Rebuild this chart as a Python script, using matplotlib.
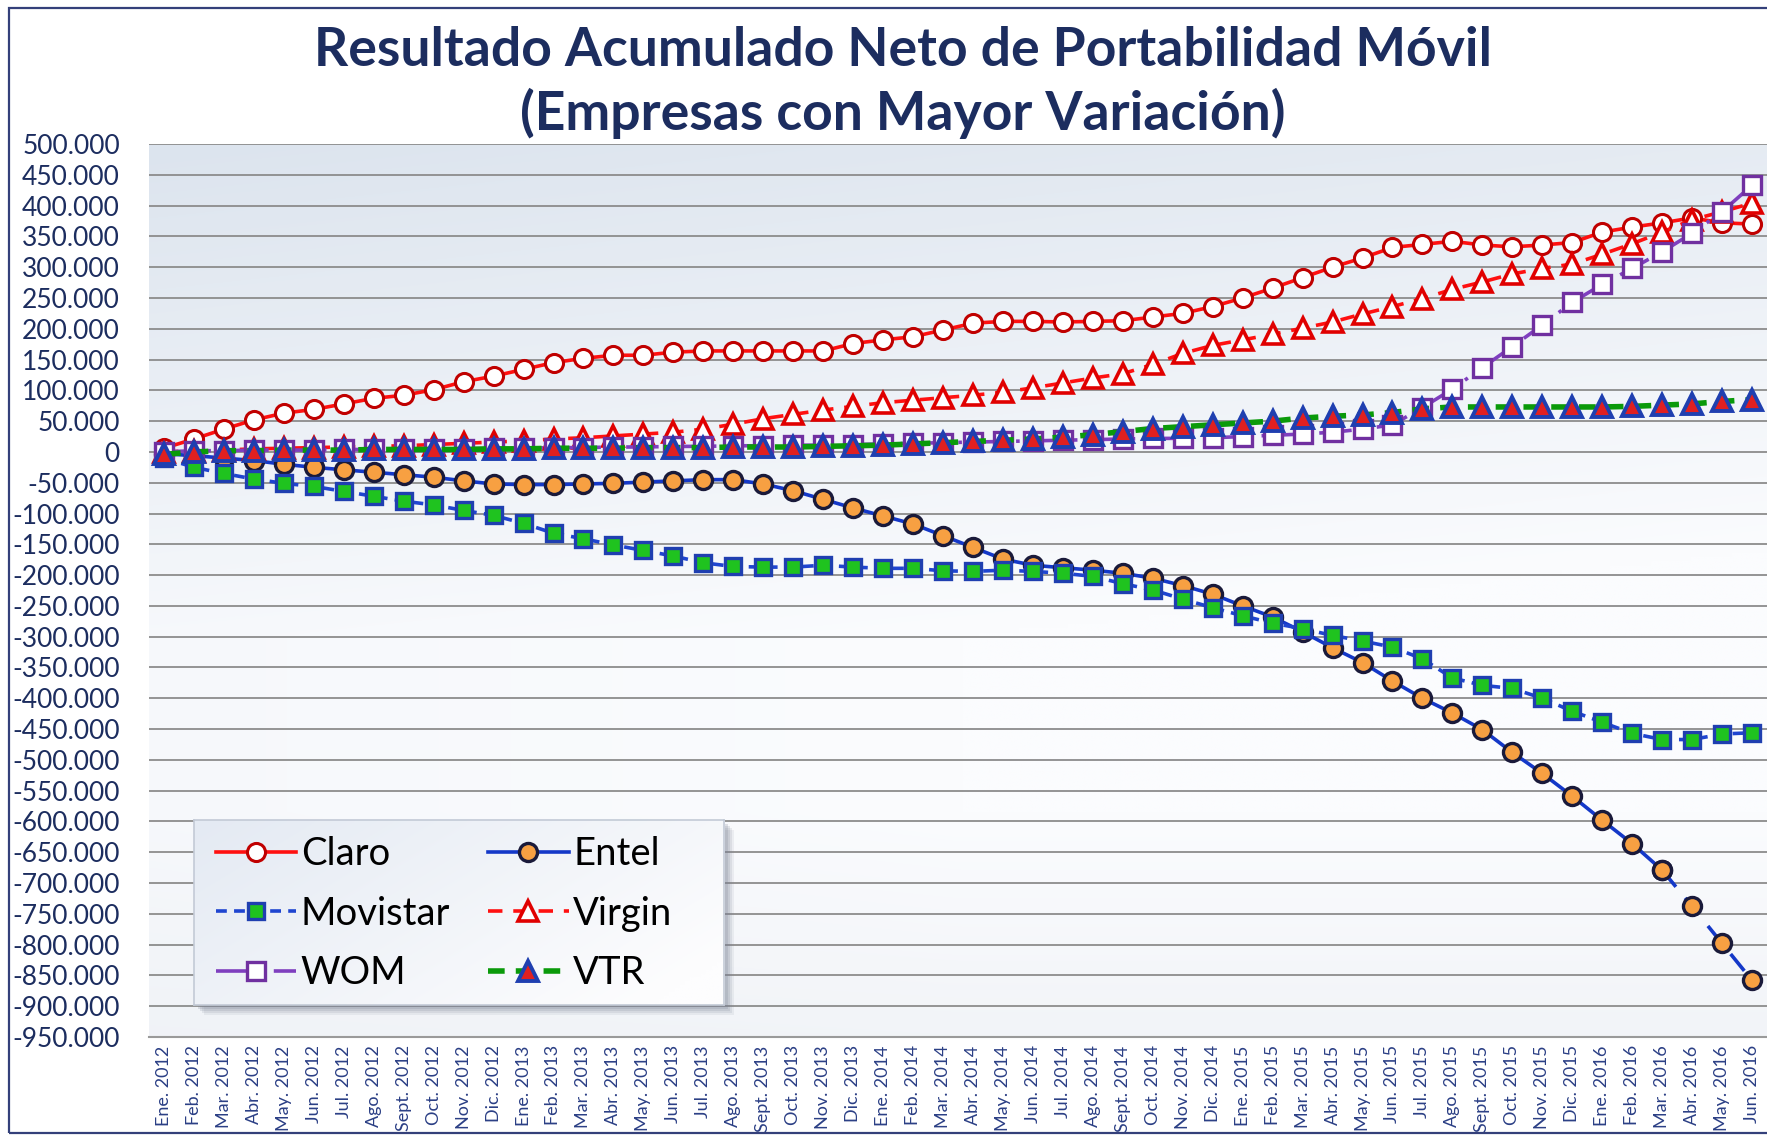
import numpy as np
import matplotlib
matplotlib.use("Agg")
import matplotlib.pyplot as plt
from matplotlib.ticker import FuncFormatter
from matplotlib.patches import Rectangle

# ---------------- data (thousands of lines, cumulative net portability) ----------------
meses = ["Ene.", "Feb.", "Mar.", "Abr.", "May.", "Jun.", "Jul.", "Ago.", "Sept.", "Oct.", "Nov.", "Dic."]
anios = [2012, 2013, 2014, 2015, 2016]
etiquetas = [f"{m} {a}" for a in anios for m in meses][:54]

claro = [6, 21, 37, 52, 63, 69, 78, 87, 92, 101, 114, 123, 134, 145, 152, 157, 157, 162,
         164, 164, 164, 164, 164, 176, 182, 187, 198, 209, 212, 212, 211, 212, 213, 219,
         225, 236, 250, 266, 283, 300, 315, 332, 337, 342, 336, 333, 336, 340, 357, 365,
         372, 380, 372, 370]
entel = [-3, -6, -10, -14, -20, -25, -29, -33, -37, -41, -47, -52, -53, -53, -52, -51, -49,
         -47, -45, -45, -52, -63, -77, -91, -104, -117, -136, -155, -174, -184, -188, -192,
         -197, -205, -217, -231, -250, -268, -292, -318, -342, -372, -400, -424, -451, -488,
         -522, -559, -598, -636, -679, -738, -798, -858]
movistar = [-10, -25, -35, -44, -51, -56, -64, -72, -80, -86, -95, -103, -116, -132, -141,
            -151, -160, -169, -180, -186, -187, -187, -184, -187, -189, -189, -193, -194,
            -192, -194, -197, -202, -214, -224, -239, -253, -266, -278, -287, -298, -307,
            -317, -336, -367, -379, -384, -400, -421, -439, -457, -467, -467, -458, -456]
virgin = [0, 2, 3, 5, 6, 7, 8, 9, 10, 12, 14, 16, 18, 21, 23, 26, 29, 32, 37, 45, 54, 61,
          68, 74, 80, 84, 88, 92, 97, 104, 112, 120, 127, 142, 160, 173, 182, 191, 201, 211,
          224, 236, 249, 264, 276, 289, 298, 305, 321, 338, 357, 377, 390, 404]
wom = [0, 2, 2, 3, 3, 3, 4, 4, 4, 5, 5, 6, 6, 7, 7, 8, 8, 9, 9, 10, 10, 11, 11, 12, 13, 14,
       15, 16, 17, 18, 19, 20, 21, 22, 22, 23, 25, 27, 29, 32, 37, 44, 72, 102, 137, 171,
       206, 243, 272, 298, 325, 355, 390, 433]
vtr = [-4, 0, 2, 2, 3, 3, 3, 4, 4, 4, 4, 5, 5, 6, 6, 6, 7, 7, 7, 8, 8, 8, 9, 10, 11, 13,
       15, 17, 19, 21, 24, 28, 33, 38, 41, 44, 47, 50, 55, 58, 60, 64, 70, 73, 73, 73, 73,
       73, 73, 74, 76, 78, 82, 85]

y_ticks = list(range(-950000, 500001, 50000))

# ---------------- styling ----------------
plt.rcParams["font.family"] = ["Lato", "DejaVu Sans"]
NAVY = "#1C2D5F"

W, H = 1767, 1136
fig = plt.figure(figsize=(W / 100, H / 100), dpi=100)
fig.patch.set_facecolor("white")

# chart border (right side cut off as in the reference)
fig.patches.append(Rectangle((9 / W, 1 - 1133 / H), 1.2, (1133 - 8) / H,
                             transform=fig.transFigure, fill=False,
                             edgecolor="#34407A", lw=1.6, zorder=0))

left, right, top, bottom = 149, 1767, 144, 1037
ax = fig.add_axes([left / W, 1 - bottom / H, (right - left) / W, (bottom - top) / H])
x = np.arange(len(etiquetas))
ax.set_xlim(-0.5, len(etiquetas) - 0.5)
ax.set_ylim(y_ticks[0], y_ticks[-1])

# plot-area gradient background
ny, nx = 200, 200
ty = np.linspace(0, 1, ny)[:, None]
tx = np.linspace(0, 1, nx)[None, :]
topc = np.array([220, 228, 238]) / 255.0
white = np.array([251, 252, 254]) / 255.0
botc = np.array([236, 239, 244]) / 255.0
s = np.clip(ty / 0.55, 0, 1) * 0.85 + tx * 0.3
s = np.clip(s, 0, 1)
img = topc[None, None, :] * (1 - s[..., None]) + white[None, None, :] * s[..., None]
b = np.clip((ty - 0.75) / 0.25, 0, 1)[..., None] * 0.6
img = img * (1 - b) + botc[None, None, :] * b
ax.imshow(img, extent=[0, 1, 0, 1], transform=ax.transAxes, aspect="auto",
          zorder=0, interpolation="bilinear")

ax.set_yticks(y_ticks)
ax.yaxis.grid(True, color="#8C8C8C", lw=1.3, zorder=1)
ax.set_axisbelow(True)
ax.yaxis.set_major_formatter(FuncFormatter(lambda v, p: f"{int(v):,}".replace(",", ".")))
ax.tick_params(axis="y", length=0, pad=21, labelsize=19, labelcolor=NAVY)
ax.set_xticks(x)
ax.set_xticklabels(etiquetas, rotation=90, ha="center", va="top")
ax.tick_params(axis="x", length=0, pad=6, labelsize=13, labelcolor="#2B3F85")
for sp in ["left", "right", "top"]:
    ax.spines[sp].set_visible(False)
ax.spines["bottom"].set_color("#9A9A9A")
ax.spines["bottom"].set_linewidth(1.5)

k = 1000
ms = 13
h_claro, = ax.plot(x, np.array(claro) * k, color="#FF1010", lw=2.6, marker="o", ms=ms,
                   mfc="white", mec="#C00000", mew=2.2, label="Claro", zorder=3)
h_entel, = ax.plot(x[:51], np.array(entel[:51]) * k, color="#1438C8", lw=2.6, marker="o",
                   ms=ms, mfc="#F7A042", mec="#1A1A3A", mew=2.4, label="Entel", zorder=4)
ax.plot(x[50:], np.array(entel[50:]) * k, color="#1438C8", lw=2.6, ls=(0, (6, 4)),
        marker="o", ms=ms, mfc="#F7A042", mec="#1A1A3A", mew=2.4, zorder=4)
h_mov, = ax.plot(x, np.array(movistar) * k, color="#1F45D0", lw=2.6, ls=(0, (3, 2)),
                 marker="s", ms=12, mfc="#1FC31F", mec="#1F3FB0", mew=2.4,
                 label="Movistar", zorder=5)
h_vir, = ax.plot(x, np.array(virgin) * k, color="#FF1010", lw=2.6, ls=(0, (4, 3)),
                 marker="^", ms=14, mfc="white", mec="#E00000", mew=2.6,
                 label="Virgin", zorder=6)
h_wom, = ax.plot(x, np.array(wom) * k, color="#7F3FBF", lw=2.6, ls=(0, (9, 3, 1, 3)),
                 marker="s", ms=13, mfc="white", mec="#7030A0", mew=2.4,
                 label="WOM", zorder=7)
h_vtr, = ax.plot(x, np.array(vtr) * k, color="#0A9A0A", lw=4, ls=(0, (3, 2)),
                 marker="^", ms=14, mfc="#E02020", mec="#1F3FB0", mew=2.8,
                 label="VTR", zorder=8)

# ---------------- legend box (custom, wider than its content as in the reference) -------
lx0, ly0, lw_, lh_ = 194, 820, 530, 185
for i, a in enumerate([0.10, 0.14, 0.18, 0.22]):
    off = 10 - 2 * i
    fig.patches.append(Rectangle(((lx0 + off) / W, 1 - (ly0 + lh_ + off) / H),
                                 lw_ / W, lh_ / H, transform=fig.transFigure,
                                 facecolor="#7A8294", edgecolor="none", alpha=a, zorder=5))
lax = fig.add_axes([lx0 / W, 1 - (ly0 + lh_) / H, lw_ / W, lh_ / H])
lax.set_zorder(10)
gx = np.linspace(0, 1, 100)[None, :]
gy = np.linspace(0, 1, 50)[:, None]
lc0 = np.array([228, 234, 243]) / 255.0
lc1 = np.array([253, 253, 254]) / 255.0
gs = np.clip(0.7 * gx + 0.4 * gy, 0, 1)[..., None]
lax.imshow(lc0 * (1 - gs) + lc1 * gs, extent=[0, 1, 0, 1], aspect="auto",
           interpolation="bilinear")
lax.set_xticks([])
lax.set_yticks([])
for sp in lax.spines.values():
    sp.set_color("#C3CAD6")
    sp.set_linewidth(1.2)

handles = [h_claro, h_mov, h_wom, h_entel, h_vir, h_vtr]
leg = fig.legend(handles, [h.get_label() for h in handles], ncol=2,
                 loc="upper left", bbox_to_anchor=(216 / W, 1 - 836 / H),
                 bbox_transform=fig.transFigure, fontsize=27.5, frameon=False,
                 handlelength=2.1, handletextpad=0.12, columnspacing=1.0,
                 labelspacing=0.62, borderpad=0, borderaxespad=0)
leg.set_zorder(20)

# titles
t1 = fig.text(903 / W, 1 - 51 / H, "Resultado Acumulado Neto de Portabilidad Móvil",
              ha="center", va="center", fontsize=34, fontweight="bold", color=NAVY)
t2 = fig.text(903 / W, 1 - 113 / H, "(Empresas con Mayor Variación)",
              ha="center", va="center", fontsize=34, fontweight="bold", color=NAVY)
fig.canvas.draw()
wpx = t1.get_window_extent().width
newsize = 34 * 1180 / wpx
t1.set_fontsize(newsize)
t2.set_fontsize(newsize)

fig.savefig("out.png", dpi=100)
